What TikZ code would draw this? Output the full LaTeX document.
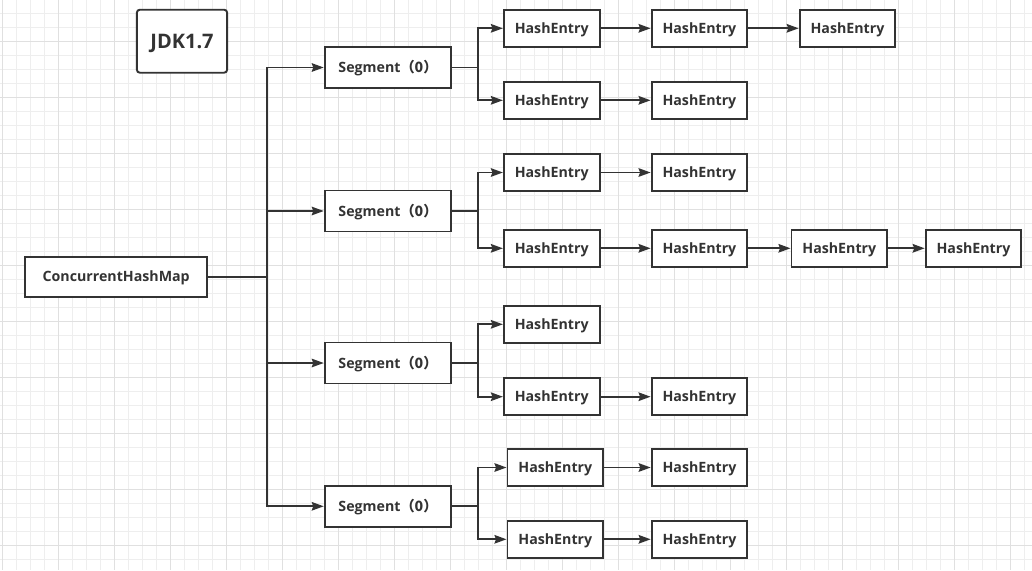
\documentclass[tikz,border=0pt]{standalone}
\usepackage{fontspec}
\setmainfont{Open Sans}
\newfontfamily\cjk{Noto Sans CJK SC}
\usetikzlibrary{arrows.meta}
\definecolor{ink}{HTML}{333333}
\definecolor{gridminor}{HTML}{EEEEEE}
\definecolor{gridmajor}{HTML}{E0E0E0}
\tikzset{
	box/.style={draw=ink, line width=1.9pt, fill=white, inner sep=0pt, text=ink, text height=10pt, text depth=0pt, font=\fontsize{14.2}{16}\selectfont\bfseries},
	entry/.style={box, minimum width=95.7pt, minimum height=37.3pt},
	segbox/.style={box, minimum width=126.6pt, minimum height=41pt},
	link/.style={draw=ink, line width=1.9pt, -{Stealth[length=12pt, width=8.5pt, inset=1.5pt]}},
}
\begin{document}
\begin{tikzpicture}[x=1pt, y=-1pt]
		\useasboundingbox (0,0) rectangle (1032,570);
		\fill[white] (0,0) rectangle (1032,570);
		% grid
		\foreach \x in {2.3,16.3,...,1032} \draw[gridminor, line width=1pt] (\x,0) -- (\x,570);
		\foreach \y in {-0.7,13.3,...,570} \draw[gridminor, line width=1pt] (0,\y) -- (1032,\y);
		\foreach \x in {2.3,58.3,...,1032} \draw[gridmajor, line width=1pt] (\x,0) -- (\x,570);
		\foreach \y in {41.3,97.3,...,570} \draw[gridmajor, line width=1pt] (0,\y) -- (1032,\y);

		\node[box, rounded corners=3pt, minimum width=90.3pt, minimum height=63pt, text height=14pt, font=\fontsize{20}{24}\selectfont\bfseries] (jdk) at (182,41.2) {JDK1.7};
		\node[box, minimum width=182.3pt, minimum height=40pt] (chm) at (116.2,276.7) {ConcurrentHashMap};

		\foreach \i/\y in {1/67.5, 2/211, 3/363, 4/506.3} {
			\node[segbox] (seg\i) at (388,\y) {Segment\cjk{（}0\cjk{）}};
			\draw[link] (chm.east) -- ++(58.4,0) |- (seg\i);
		}

		\node[entry] (e1a1) at (551.7,28.3) {HashEntry};
		\node[entry] (e1a2) at (699.4,28.3) {HashEntry};
		\node[entry] (e1a3) at (847.5,28.3) {HashEntry};
		\node[entry] (e1b1) at (551.7,100.3) {HashEntry};
		\node[entry] (e1b2) at (699.4,100.3) {HashEntry};

		\node[entry] (e2a1) at (551.7,172.5) {HashEntry};
		\node[entry] (e2a2) at (699.4,172.5) {HashEntry};
		\node[entry] (e2b1) at (551.7,248.3) {HashEntry};
		\node[entry] (e2b2) at (699.4,248.3) {HashEntry};
		\node[entry] (e2b3) at (839.3,248.3) {HashEntry};
		\node[entry] (e2b4) at (973.5,248.3) {HashEntry};

		\node[entry] (e3a1) at (551.7,324.3) {HashEntry};
		\node[entry] (e3b1) at (551.7,396.7) {HashEntry};
		\node[entry] (e3b2) at (699.4,396.7) {HashEntry};

		\node[entry] (e4a1) at (555.3,467.5) {HashEntry};
		\node[entry] (e4a2) at (699.5,467.5) {HashEntry};
		\node[entry] (e4b1) at (555.3,539.3) {HashEntry};
		\node[entry] (e4b2) at (699.5,539.3) {HashEntry};

		% segment -> first entries
		\foreach \i in {1,2,3,4} {
			\draw[link] (seg\i.east) -- ++(26,0) |- (e\i a1);
			\draw[link] (seg\i.east) -- ++(26,0) |- (e\i b1);
		}

		% chains
		\foreach \a/\b in {e1a1/e1a2, e1a2/e1a3, e1b1/e1b2, e2a1/e2a2, e2b1/e2b2, e2b2/e2b3, e2b3/e2b4, e3b1/e3b2, e4a1/e4a2, e4b1/e4b2}
			\draw[link] (\a) -- (\b);
\end{tikzpicture}
\end{document}
